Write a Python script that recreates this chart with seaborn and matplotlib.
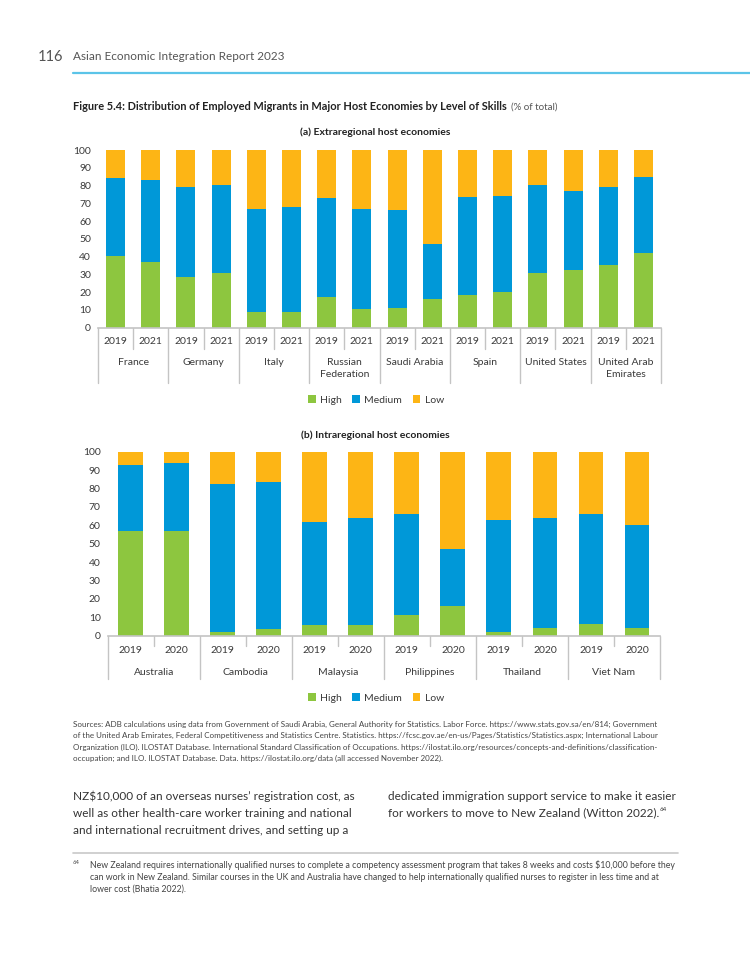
import pandas as pd
import matplotlib.pyplot as plt
import matplotlib.transforms as mtransforms
import seaborn as sns
from matplotlib.patches import Patch


sns.set_theme(style="white")
plt.rcParams["font.family"] = ["Lato", "DejaVu Sans"]

W, H = 750, 971

# (a) Extraregional host economies
ext_groups = ["France", "Germany", "Italy", "Russian\nFederation", "Saudi Arabia",
              "Spain", "United States", "United Arab\nEmirates"]
ext_years = ["2019", "2021"]
ext_high = [40.3, 36.8, 28.7, 30.6, 9.0, 9.0, 17.1, 10.7,
            11.3, 15.9, 18.4, 19.9, 30.8, 32.6, 35.3, 42.2]
ext_medium = [43.9, 46.3, 50.3, 49.7, 57.6, 58.7, 56.1, 56.3,
              54.9, 31.2, 55.1, 54.2, 49.3, 44.3, 44.1, 42.6]
ext_low = [15.8, 16.9, 21.0, 19.7, 33.4, 32.3, 26.8, 33.0,
           33.8, 52.9, 26.5, 25.9, 19.9, 23.1, 20.6, 15.2]

# (b) Intraregional host economies
int_groups = ["Australia", "Cambodia", "Malaysia", "Philippines", "Thailand", "Viet Nam"]
int_years = ["2019", "2020"]
int_high = [56.9, 57.1, 1.8, 3.4, 5.8, 5.8, 11.4, 16.1, 2.0, 4.2, 6.5, 4.3]
int_medium = [35.7, 36.7, 80.8, 80.3, 56.2, 58.1, 54.9, 31.2, 60.9, 59.7, 59.4, 55.8]
int_low = [7.4, 6.2, 17.4, 16.3, 38.0, 36.1, 33.7, 52.7, 37.1, 36.1, 34.1, 39.9]

levels = ["High", "Medium", "Low"]
colors = {"High": "#8DC63F", "Medium": "#0098D8", "Low": "#FDB515"}
text_col = "#3a3a3a"
line_col = "#c4c4c4"

fig = plt.figure(figsize=(W / 100, H / 100), dpi=100)


def fy(y):
    return 1 - y / H


def add_ax(left, top, right, bottom):
    return fig.add_axes([left / W, 1 - bottom / H, (right - left) / W, (bottom - top) / H])


def draw_panel(ax, groups, years, high, medium, low, y_year, y_group, y_tick_end, y_sep_end):
    labels = [f"{g} {y}" for g in groups for y in years]
    df = pd.DataFrame({"bar": labels, "high": high, "medium": medium, "low": low})
    df["cum_med"] = df["high"] + df["medium"]
    df["cum_low"] = df["cum_med"] + df["low"]

    # barras apiladas: se dibuja primero el total y encima los tramos menores
    for col, lev in [("cum_low", "Low"), ("cum_med", "Medium"), ("high", "High")]:
        sns.barplot(data=df, x="bar", y=col, color=colors[lev], saturation=1,
                    width=0.54, linewidth=0, errorbar=None, ax=ax)

    n = len(labels)
    ax.set_xlim(-0.5, n - 0.5)
    ax.set_ylim(0, 100)
    ax.set_yticks(range(0, 101, 10))
    ax.set_xticks([])
    ax.set_xlabel("")
    ax.set_ylabel("")
    ax.tick_params(axis="y", length=0, pad=5, labelsize=7.5, labelcolor=text_col)
    for s in ["top", "right", "left"]:
        ax.spines[s].set_visible(False)
    ax.spines["bottom"].set_color(line_col)
    ax.spines["bottom"].set_linewidth(1.2)

    blend = mtransforms.blended_transform_factory(ax.transData, fig.transFigure)
    y_axis = ax.get_position().y0
    k = len(years)
    for i, lab in enumerate(labels):
        ax.text(i, fy(y_year), years[i % k], transform=blend, ha="center", va="center",
                fontsize=7.5, color=text_col)
    for j, g in enumerate(groups):
        ax.text(j * k + (k - 1) / 2, fy(y_group), g, transform=blend, ha="center", va="top",
                fontsize=7.5, color=text_col, linespacing=1.45)
    # separadores del eje categórico
    for j in range(len(groups) + 1):
        x = j * k - 0.5
        ax.plot([x, x], [y_axis, fy(y_sep_end)], transform=blend, clip_on=False,
                color=line_col, lw=1)
        if j < len(groups):
            for m in range(1, k):
                xm = j * k + m - 0.5
                ax.plot([xm, xm], [y_axis, fy(y_tick_end)], transform=blend, clip_on=False,
                        color=line_col, lw=1)


# Cabecera de página
fig.text(38 / W, fy(57), "116", fontsize=10.5, color="#555555", va="center")
fig.text(73 / W, fy(57), "Asian Economic Integration Report 2023", fontsize=8.5,
         color="#555555", va="center")
fig.add_artist(plt.Line2D([73 / W, 1], [fy(73), fy(73)], color="#5BC4E8", lw=1.6))

renderer = fig.canvas.get_renderer()
t = fig.text(73 / W, fy(107), "Figure 5.4: Distribution of Employed Migrants in Major Host "
             "Economies by Level of Skills", fontsize=7.95, fontweight="bold",
             color="#222222", va="center")
bb = t.get_window_extent(renderer)
fig.text(bb.x1 / W + 4 / W, fy(107), "(% of total)", fontsize=7.0, color="#555555", va="center")

fig.text(375 / W, fy(132), "(a) Extraregional host economies", fontsize=7.5,
         fontweight="bold", color="#222222", ha="center", va="center")
fig.text(375 / W, fy(435), "(b) Intraregional host economies", fontsize=7.5,
         fontweight="bold", color="#222222", ha="center", va="center")

ax_a = add_ax(98, 150, 661, 327.7)
draw_panel(ax_a, ext_groups, ext_years, ext_high, ext_medium, ext_low,
           y_year=342, y_group=358, y_tick_end=349, y_sep_end=383)

ax_b = add_ax(107.7, 451.7, 660, 635.7)
draw_panel(ax_b, int_groups, int_years, int_high, int_medium, int_low,
           y_year=650.5, y_group=667.5, y_tick_end=646, y_sep_end=679)

handles = [Patch(facecolor=colors[l], edgecolor="none") for l in levels]
for ly in [400, 698]:
    fig.legend(handles, levels, loc="center", bbox_to_anchor=(376 / W, fy(ly)), ncol=3,
               frameon=False, handlelength=0.75, handleheight=0.75, handletextpad=0.4,
               columnspacing=1.0, fontsize=7.5, labelcolor=text_col)

sources = [
    "Sources: ADB calculations using data from Government of Saudi Arabia, General Authority for Statistics. Labor Force. https://www.stats.gov.sa/en/814; Government",
    "of the United Arab Emirates, Federal Competitiveness and Statistics Centre. Statistics. https://fcsc.gov.ae/en-us/Pages/Statistics/Statistics.aspx; International Labour",
    "Organization (ILO). ILOSTAT Database. International Standard Classification of Occupations. https://ilostat.ilo.org/resources/concepts-and-definitions/classification-",
    "occupation; and ILO. ILOSTAT Database. Data. https://ilostat.ilo.org/data (all accessed November 2022).",
]
for i, line in enumerate(sources):
    fig.text(73 / W, fy(724 + i * 11.6), line, fontsize=5.8, color="#444444", va="center")

body_left = [
    "NZ$10,000 of an overseas nurses’ registration cost, as",
    "well as other health-care worker training and national",
    "and international recruitment drives, and setting up a",
]
body_right = [
    "dedicated immigration support service to make it easier",
    "for workers to move to New Zealand (Witton 2022).",
]
for i, line in enumerate(body_left):
    fig.text(73 / W, fy(796 + i * 17), line, fontsize=8.45, color="#333333", va="center")
for i, line in enumerate(body_right):
    t = fig.text(388 / W, fy(796 + i * 17), line, fontsize=8.45, color="#333333", va="center")
bb = t.get_window_extent(renderer)
fig.text(bb.x1 / W, fy(809), "64", fontsize=4.5, color="#333333", va="center")

fig.add_artist(plt.Line2D([73 / W, 678 / W], [fy(853), fy(853)], color="#c8c8c8", lw=1.2))
fig.text(73 / W, fy(862), "64", fontsize=4.2, color="#444444", va="center")
footnote = [
    "New Zealand requires internationally qualified nurses to complete a competency assessment program that takes 8 weeks and costs $10,000 before they",
    "can work in New Zealand. Similar courses in the UK and Australia have changed to help internationally qualified nurses to register in less time and at",
    "lower cost (Bhatia 2022).",
]
for i, line in enumerate(footnote):
    fig.text(90 / W, fy(865 + i * 12.2), line, fontsize=6.33, color="#444444", va="center")

plt.savefig("out.png", dpi=100)
plt.close()
